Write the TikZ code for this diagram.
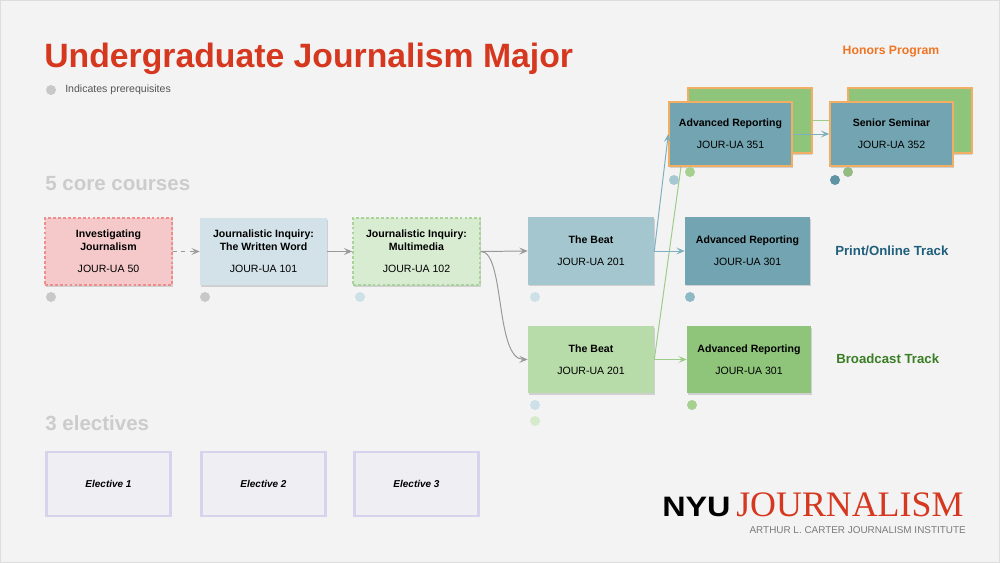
\documentclass[tikz,border=0pt]{standalone}
\usepackage{fontspec}
\setmainfont{Liberation Sans}
\newfontfamily\serifjr{Liberation Serif}
\usepackage{tikz}
\usetikzlibrary{arrows.meta, positioning, shadows}

\definecolor{bgcol}{HTML}{F3F3F3}
\definecolor{framecol}{HTML}{DDDDDD}
\definecolor{titlered}{HTML}{D5381F}
\definecolor{headgray}{HTML}{CCCCCC}
\definecolor{legendgray}{HTML}{555555}
\definecolor{dotgray}{HTML}{C8C8C8}
\definecolor{pinkfill}{HTML}{F5C9C9}
\definecolor{pinkline}{HTML}{F08C8C}
\definecolor{bluefill}{HTML}{D2E2E8}
\definecolor{greenfill}{HTML}{D8ECD2}
\definecolor{greenline}{HTML}{A8D499}
\definecolor{beatblue}{HTML}{A4C7CF}
\definecolor{advblue}{HTML}{73A4B1}
\definecolor{beatgreen}{HTML}{B7DBA9}
\definecolor{advgreen}{HTML}{8FC57A}
\definecolor{honorsorange}{HTML}{F2AE62}
\definecolor{arrowgray}{HTML}{999999}
\definecolor{arrowteal}{HTML}{7FB0BF}
\definecolor{arrowgreen}{HTML}{9CCC88}
\definecolor{printcol}{HTML}{1E5F7B}
\definecolor{broadcol}{HTML}{3A7D25}
\definecolor{honorscol}{HTML}{F07422}
\definecolor{electfill}{HTML}{EFEEF2}
\definecolor{electline}{HTML}{D9D2EC}
\definecolor{dotlblue}{HTML}{CDE0E7}
\definecolor{dotmblue}{HTML}{8FB9C5}
\definecolor{dotdblue}{HTML}{5F93A4}
\definecolor{dotgreen}{HTML}{A5D08F}
\definecolor{dotlgreen}{HTML}{D5EBCC}
\definecolor{logogray}{HTML}{7A7A7A}

\begin{document}
\begin{tikzpicture}[x=0.025cm, y=-0.025cm,
    course/.style={rectangle, minimum width=3.175cm, minimum height=1.675cm, inner sep=2pt, align=center,
        font=\fontsize{7.5}{9.2}\selectfont, drop shadow={shadow xshift=0.6pt, shadow yshift=-1.2pt, opacity=0.3}},
    elect/.style={rectangle, draw=electline, fill=electfill, line width=2pt, minimum width=3.1cm, minimum height=1.6cm,
        font=\fontsize{7.1}{9}\selectfont\bfseries\itshape},
    pdot/.style={circle, minimum size=0.25cm, inner sep=0pt},
    head/.style={anchor=base west, inner sep=0pt, text=headgray, font=\fontsize{14.6}{16}\selectfont\bfseries},
    track/.style={anchor=west, inner sep=0pt, font=\fontsize{9.4}{11}\selectfont\bfseries},
    link/.style={line width=0.7pt, -{Stealth[length=6pt, width=5pt, inset=2.5pt]}}]
    \useasboundingbox (0,0) rectangle (1000,563);
    \fill[bgcol] (0,0) rectangle (1000,563);
    \draw[framecol, line width=0.5pt] (0.5,0.5) rectangle (999.5,562.5);

    % title and legend
    \node (title) [anchor=base west, inner sep=0pt, text=titlered, font=\fontsize{24}{28}\selectfont\bfseries] at (44,68) {Undergraduate Journalism Major};
    \node (legdot) [pdot, fill=dotgray] at (51,90) {};
    \node (legend) [anchor=west, inner sep=0pt, text=legendgray, font=\fontsize{7.5}{9}\selectfont] at (65,90) {Indicates prerequisites};

    % core courses
    \node (core) [head] at (45,191) {5 core courses};
    \node (c50) [course, fill=pinkfill, draw=pinkline, line width=1pt, dash pattern=on 2pt off 1.5pt] at (108.5,251.5)
        {\textbf{Investigating}\\\textbf{Journalism}\\[6.4pt]JOUR-UA 50};
    \node (c101) [course, fill=bluefill] at (263.5,251.5)
        {\textbf{Journalistic Inquiry:}\\\textbf{The Written Word}\\[6.4pt]JOUR-UA 101};
    \node (c102) [course, fill=greenfill, draw=greenline, line width=1pt, dash pattern=on 2pt off 1.5pt] at (416.5,251.5)
        {\textbf{Journalistic Inquiry:}\\\textbf{Multimedia}\\[6.4pt]JOUR-UA 102};
    \node (d50) [pdot, fill=dotgray] at (51,297) {};
    \node (d101) [pdot, fill=dotgray] at (205,297) {};
    \node (d102) [pdot, fill=dotlblue] at (360,297) {};

    % tracks
    \node (beatp) [course, fill=beatblue, minimum width=3.15cm] at (591,251) {\textbf{The Beat}\\[6.4pt]JOUR-UA 201};
    \node (advp) [course, fill=advblue, minimum width=3.125cm] at (747.5,251) {\textbf{Advanced Reporting}\\[6.4pt]JOUR-UA 301};
    \node (beatb) [course, fill=beatgreen, minimum width=3.15cm] at (591,359.5) {\textbf{The Beat}\\[6.4pt]JOUR-UA 201};
    \node (advb) [course, fill=advgreen, minimum width=3.1cm] at (749,359.5) {\textbf{Advanced Reporting}\\[6.4pt]JOUR-UA 301};
    \node (dbeatp) [pdot, fill=dotlblue] at (535,297) {};
    \node (dadvp) [pdot, fill=dotmblue] at (690,297) {};
    \node (dbeatb1) [pdot, fill=dotlblue] at (535,405) {};
    \node (dbeatb2) [pdot, fill=dotlgreen] at (535,421) {};
    \node (dadvb) [pdot, fill=dotgreen] at (692,405) {};
    \node (printlbl) [track, text=printcol] at (835,251) {Print/Online Track};
    \node (broadlbl) [track, text=broadcol] at (836,359) {Broadcast Track};

    % honors program
    \node (honlbl) [text=honorscol, font=\fontsize{8.7}{10}\selectfont\bfseries] at (891,52) {Honors Program};
    \node (hback1) [course, fill=advgreen, draw=honorsorange, line width=1.4pt, minimum width=3.08cm, minimum height=1.63cm] at (750,120.5) {};
    \node (hback2) [course, fill=advgreen, draw=honorsorange, line width=1.4pt, minimum width=3.08cm, minimum height=1.63cm] at (910,120.5) {};
    \draw[arrowgreen, line width=0.7pt] (beatb.east) -- (hback1.west);
    \draw[arrowgreen, line width=0.7pt] (hback1.east) -- (hback2.west);
    \node (h351) [course, fill=advblue, draw=honorsorange, line width=1.4pt, minimum width=3.06cm, minimum height=1.6cm] at (730.5,134)
        {\textbf{Advanced Reporting}\\[6.4pt]JOUR-UA 351};
    \node (h352) [course, fill=advblue, draw=honorsorange, line width=1.4pt, minimum width=3.06cm, minimum height=1.6cm] at (891.5,134)
        {\textbf{Senior Seminar}\\[6.4pt]JOUR-UA 352};
    \node (dh351a) [pdot, fill=dotmblue!80] at (674,180) {};
    \node (dh351b) [pdot, fill=dotgreen] at (690,172) {};
    \node (dh352a) [pdot, fill=dotdblue] at (835,180) {};
    \node (dh352b) [pdot, fill=dotgreen!90!black] at (848,172) {};

    % prerequisite arrows
    \draw[link, arrowgray, dashed] (c50.east) -- (c101.west);
    \draw[link, arrowgray] (c101.east) -- (c102.west);
    \draw[link, arrowgray] (c102.east) -- (beatp.west);
    \draw[link, arrowgray] (c102.east) .. controls (505,251) and (495,359) .. (beatb.west);
    \draw[link, arrowteal] (beatp.east) -- (advp.west);
    \draw[link, arrowteal] (beatp.east) -- (h351.west);
    \draw[link, arrowgreen] (beatb.east) -- (advb.west);
    \draw[link, arrowteal] (h351.east) -- (h352.west);

    % electives
    \node (electives) [head] at (45,431) {3 electives};
    \node (e1) [elect] at (108.5,484) {Elective 1};
    \node (e2) [elect] at (263.5,484) {Elective 2};
    \node (e3) [elect] at (416.5,484) {Elective 3};

    % logo
    \node (nyu) [anchor=base west, inner sep=0pt] at (662,517) {\scalebox{1.15}[1]{\fontsize{20}{22}\selectfont\bfseries NYU}};
    \node (journ) [anchor=base west, inner sep=0pt, text=titlered] at (736,517) {\fontsize{25.5}{28}\selectfont\serifjr JOURNALISM};
    \node (inst) [anchor=base east, inner sep=0pt, text=logogray, font=\fontsize{7.05}{8}\selectfont] at (966,533) {ARTHUR L. CARTER JOURNALISM INSTITUTE};
\end{tikzpicture}
\end{document}
